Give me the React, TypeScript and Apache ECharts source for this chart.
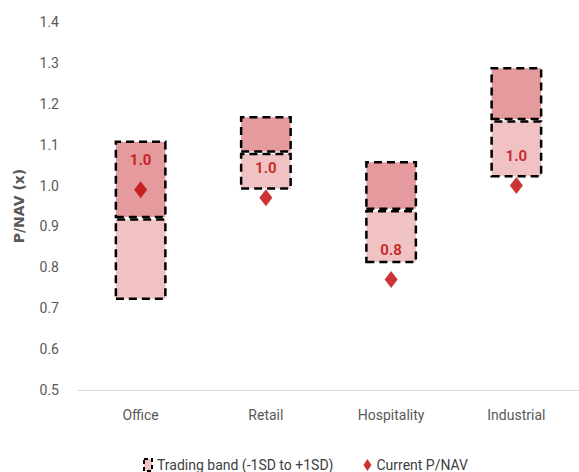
import React, { useEffect, useRef } from "react";
import * as echarts from "echarts";

const categories = ["Office", "Retail", "Hospitality", "Industrial"];
const lowBand = [0.72, 0.99, 0.81, 1.02];
const meanValue = [0.92, 1.08, 0.94, 1.16];
const highBand = [1.11, 1.17, 1.06, 1.29];
const currentPNAV = [0.99, 0.97, 0.77, 1.0];
const currentLabels = ["1.0", "1.0", "0.8", "1.0"];

const FONT = "Roboto, 'Open Sans', sans-serif";

export default function App() {
  const ref = useRef<HTMLDivElement>(null);
  useEffect(() => {
    if (!ref.current) return;
    const chart = echarts.init(ref.current, null, { renderer: "svg" });
    const base = lowBand;
    const lower = meanValue.map((m, i) => +(m - lowBand[i]).toFixed(3));
    const upper = highBand.map((h, i) => +(h - meanValue[i]).toFixed(3));
    const bandBorder = {
      borderColor: "#000000",
      borderWidth: 2.5,
      borderType: [8, 5] as any,
    };
    chart.setOption({
      animation: false,
      textStyle: { fontFamily: FONT },
      grid: { left: 78, top: 22, width: 512, height: 368 },
      legend: {
        left: 138,
        top: 453,
        itemGap: 30,
        itemWidth: 8,
        itemHeight: 12,
        textStyle: { fontFamily: FONT, fontSize: 14, color: "#404040" },
        data: [
          {
            name: "Trading band (-1SD to +1SD)",
            icon: "rect",
            itemStyle: { color: "#F0C2C4", borderColor: "#000", borderWidth: 2, borderType: [4, 3] },
          },
          { name: "Current P/NAV", icon: "diamond", itemStyle: { color: "#C00000" } },
        ],
      },
      xAxis: {
        type: "category",
        data: categories,
        axisLine: { lineStyle: { color: "#D9D9D9", width: 1 } },
        axisTick: { show: false },
        axisLabel: { fontFamily: FONT, fontSize: 14, color: "#595959", margin: 18 },
      },
      yAxis: {
        type: "value",
        min: 0.5,
        max: 1.4,
        interval: 0.1,
        name: "P/NAV (x)",
        nameLocation: "middle",
        nameGap: 52,
        nameTextStyle: { fontFamily: "'DejaVu Sans', sans-serif", fontSize: 14, fontWeight: "bold", color: "#595959" },
        splitLine: { show: false },
        axisLine: { show: false },
        axisTick: { show: false },
        axisLabel: {
          fontFamily: FONT,
          fontSize: 14,
          color: "#595959",
          margin: 19,
          formatter: (v: number) => v.toFixed(1),
        },
      },
      series: [
        {
          name: "base",
          type: "bar",
          stack: "band",
          barWidth: 52,
          data: base,
          itemStyle: { color: "transparent" },
          emphasis: { disabled: true },
          silent: true,
        },
        {
          name: "Trading band (-1SD to +1SD)",
          type: "bar",
          stack: "band",
          barWidth: 52,
          data: lower,
          itemStyle: { color: "#F0C2C4", ...bandBorder },
        },
        {
          name: "upper",
          type: "bar",
          stack: "band",
          barWidth: 52,
          data: upper,
          itemStyle: { color: "#E59A9E", ...bandBorder },
        },
        {
          name: "Current P/NAV",
          type: "scatter",
          symbol: "diamond",
          symbolSize: [13, 17],
          data: currentPNAV,
          itemStyle: { color: "#C00000" },
          z: 5,
          label: {
            show: true,
            position: "inside",
            offset: [0, -30],
            formatter: (p: any) => currentLabels[p.dataIndex],
            fontFamily: FONT,
            fontSize: 15,
            fontWeight: "bold",
            color: "#C00000",
          },
        },
      ],
    });
    return () => chart.dispose();
  }, []);
  return (
    <div
      ref={ref}
      style={{ position: "fixed", left: 0, top: 0, width: 579, height: 472, background: "#fff" }}
    />
  );
}
